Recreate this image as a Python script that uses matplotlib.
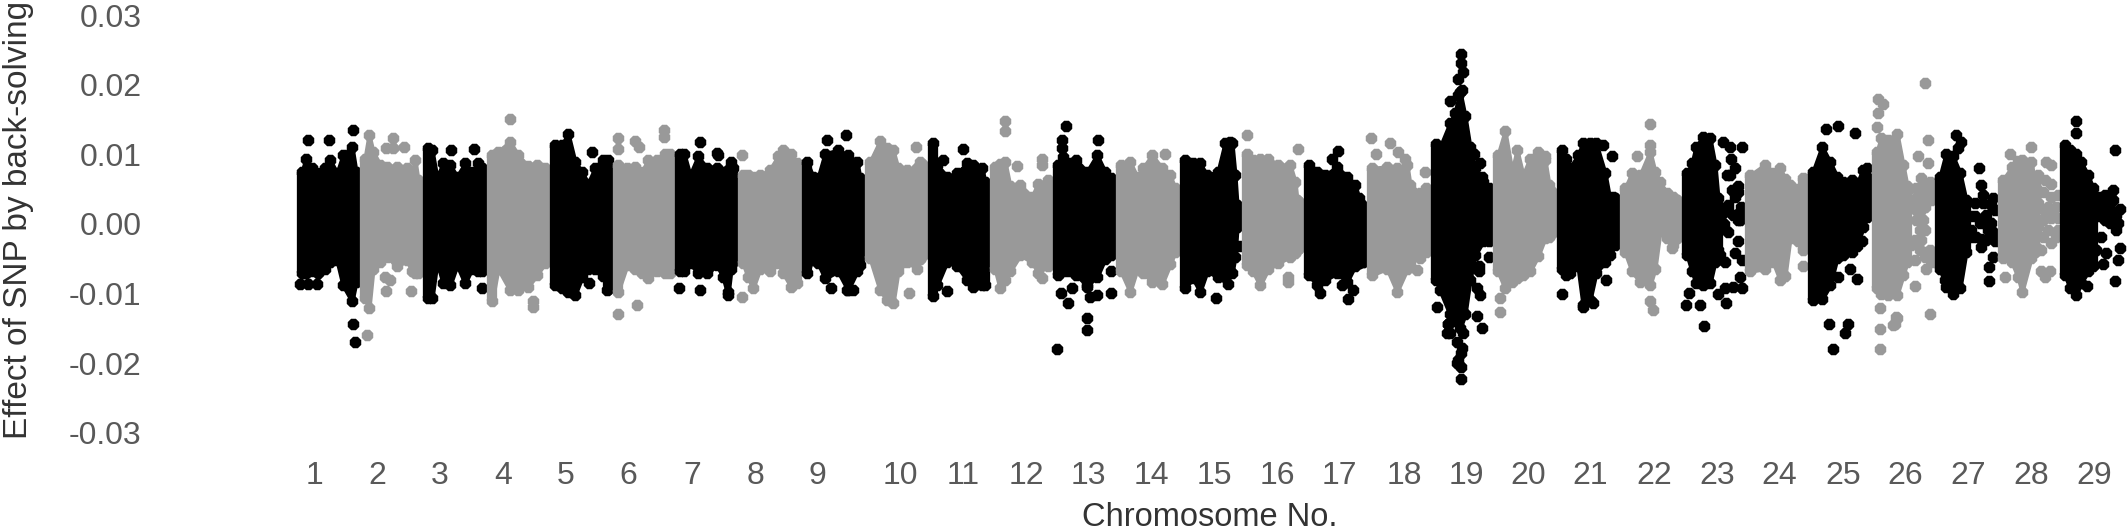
import numpy as np
import matplotlib
matplotlib.use('Agg')
import matplotlib.pyplot as plt

plt.rcParams['font.family'] = ['Liberation Sans', 'DejaVu Sans']

# values. x = cumulative genome position, effects in units of 0.001
chrom_labels = [str(i) for i in range(1, 30)]
label_pos = [315, 377, 440, 503, 566, 628, 692, 755, 817, 900, 963, 1026, 1088, 1151, 1214,
             1277, 1339, 1404, 1466, 1528, 1590, 1654, 1717, 1779, 1843, 1905, 1968, 2031, 2094]
y_ticks = [0.03, 0.02, 0.01, 0.0, -0.01, -0.02, -0.03]

# dense band of each chromosome: position, upper edge, lower edge
band_x = [
    [302, 306, 312, 318, 325, 330, 337, 343, 352, 356],
    [365, 369, 373, 380, 387, 397, 407, 412, 415, 418],
    [428, 432, 437, 443, 450, 457, 465, 472, 478, 482],
    [492, 498, 510, 518, 528, 537, 545],
    [555, 562, 568, 575, 582, 588, 595, 603, 608],
    [618, 627, 635, 642, 648, 657, 665, 670],
    [680, 684, 690, 698, 707, 717, 723, 728, 731, 733],
    [743, 748, 753, 760, 770, 778, 783, 791, 797],
    [807, 813, 818, 825, 838, 848, 857, 860],
    [870, 880, 887, 893, 898, 907, 917, 920, 923],
    [933, 937, 947, 957, 967, 973, 982, 985],
    [995, 1000, 1005, 1010, 1020, 1032, 1038, 1048],
    [1058, 1063, 1068, 1076, 1087, 1097, 1105, 1111],
    [1121, 1130, 1137, 1143, 1152, 1162, 1170, 1175],
    [1185, 1193, 1200, 1207, 1218, 1225, 1232, 1235, 1237],
    [1247, 1253, 1260, 1268, 1278, 1290, 1295, 1297, 1299],
    [1309, 1317, 1325, 1337, 1347, 1355, 1359, 1362],
    [1372, 1387, 1397, 1407, 1410, 1420, 1426],
    [1436, 1440, 1450, 1455, 1460, 1465, 1470, 1475, 1483, 1488],
    [1498, 1505, 1512, 1517, 1523, 1530, 1538, 1545, 1549, 1552],
    [1562, 1566, 1570, 1578, 1583, 1590, 1596, 1605, 1610, 1615],
    [1625, 1632, 1640, 1650, 1655, 1660, 1667, 1673, 1677],
    [1687, 1692, 1696, 1703, 1710, 1715, 1718],
    [1750, 1765, 1773, 1780, 1785, 1790, 1798, 1803],
    [1813, 1822, 1830, 1837, 1843, 1852, 1857, 1863, 1867],
    [1877, 1881, 1888, 1897, 1903, 1907],
    [1940, 1946, 1953, 1960, 1966],
    [2003, 2012, 2018, 2022, 2031, 2035],
    [2065, 2070, 2076, 2081, 2088, 2093],
]
band_top = [
    [7.5, 9.4, 8.0, 7.3, 8.0, 9.2, 7.3, 9.9, 11.1, 7.5],
    [9.4, 12.8, 10.4, 8.5, 8.2, 8.2, 8.0, 6.6, 9.2, 6.3],
    [10.9, 10.6, 6.6, 8.7, 8.5, 6.8, 8.7, 7.5, 8.7, 8.0],
    [9.9, 10.4, 11.8, 9.9, 8.3, 8.5, 8.0],
    [11.3, 11.3, 13.0, 8.9, 7.5, 5.8, 8.0, 9.2, 9.2],
    [8.5, 8.0, 8.2, 7.5, 9.2, 9.2, 10.1, 10.1],
    [10.1, 10.1, 7.0, 9.7, 8.0, 8.0, 7.5, 7.7, 8.9, 8.0],
    [7.0, 7.0, 6.8, 7.0, 7.8, 9.7, 10.6, 10.1, 8.7],
    [8.9, 6.8, 6.6, 10.1, 10.6, 9.9, 8.9, 6.6],
    [8.9, 11.9, 10.9, 10.6, 8.0, 7.8, 8.0, 8.9, 8.5],
    [11.6, 8.5, 6.8, 7.3, 8.7, 8.5, 8.0, 6.0],
    [8.2, 8.6, 8.9, 5.4, 5.6, 3.9, 5.8, 6.3],
    [8.5, 9.6, 8.8, 9.2, 7.5, 9.9, 7.5, 6.6],
    [8.5, 8.9, 6.8, 8.0, 9.9, 8.0, 7.0, 5.1],
    [9.2, 8.7, 8.7, 7.0, 7.5, 11.6, 11.6, 7.0, 2.7],
    [10.1, 9.2, 9.4, 9.4, 8.5, 8.5, 6.1, 3.4, 3.2],
    [8.5, 7.5, 7.0, 8.2, 6.8, 5.6, 3.7, 2.7],
    [8.0, 8.2, 8.0, 8.5, 5.6, 4.4, 5.1],
    [11.5, 11.0, 14.5, 16.0, 19.0, 15.5, 11.0, 8.0, 6.0, 4.5],
    [9.9, 13.3, 7.5, 10.6, 7.0, 9.4, 10.4, 9.2, 5.6, 4.6],
    [10.6, 9.4, 8.0, 9.9, 11.6, 11.6, 11.6, 7.3, 3.4, 3.7],
    [5.1, 7.3, 7.0, 10.4, 7.5, 6.0, 4.4, 3.9, 3.5],
    [7.3, 8.7, 11.1, 12.5, 12.3, 8.5, 3.7],
    [7.0, 8.5, 7.3, 8.0, 6.5, 5.6, 5.0, 6.6],
    [7.5, 11.1, 8.9, 6.8, 6.1, 6.3, 5.8, 7.8, 6.8],
    [10.4, 12.3, 12.1, 13.0, 8.5, 5.5],
    [6.8, 10.1, 9.7, 7.3, 3.4],
    [6.3, 8.2, 9.0, 9.2, 8.9, 6.0],
    [11.3, 10.7, 10.0, 8.9, 7.0, 5.1],
]
band_bot = [
    [-7.1, -7.1, -6.8, -7.1, -6.4, -5.5, -5.2, -8.8, -11.1, -8.3],
    [-10.7, -12.1, -6.4, -5.4, -4.7, -6.1, -5.2, -6.8, -7.1, -7.1],
    [-10.7, -10.7, -5.4, -8.5, -8.8, -5.9, -8.5, -6.4, -6.8, -6.8],
    [-11.1, -6.4, -9.5, -9.5, -9.0, -7.3, -5.6],
    [-8.8, -9.2, -9.8, -10.2, -7.6, -6.4, -6.4, -7.5, -9.4],
    [-9.7, -5.9, -6.4, -7.0, -7.8, -6.8, -7.1, -7.1],
    [-6.8, -6.8, -5.6, -7.1, -7.1, -5.9, -7.6, -10.2, -6.5, -5.4],
    [-5.6, -7.6, -9.2, -6.4, -6.8, -5.6, -7.0, -9.0, -8.5],
    [-7.1, -4.9, -5.6, -7.8, -6.8, -9.5, -6.8, -5.9],
    [-4.9, -9.5, -10.9, -11.4, -6.8, -5.4, -6.4, -5.0, -4.4],
    [-10.4, -8.8, -5.4, -6.0, -8.0, -9.0, -8.8, -8.8],
    [-6.4, -9.2, -8.0, -6.8, -4.5, -5.4, -7.0, -6.0],
    [-7.3, -6.8, -6.8, -7.3, -8.8, -7.6, -5.0, -4.4],
    [-6.8, -9.7, -6.5, -7.0, -8.3, -8.6, -5.8, -4.0],
    [-9.2, -7.8, -9.7, -6.8, -7.6, -7.6, -7.1, -4.7, -0.5],
    [-5.9, -6.8, -8.8, -6.5, -5.6, -4.7, -4.2, -3.7, -3.5],
    [-7.3, -8.8, -8.0, -7.1, -8.3, -6.0, -5.6, -5.4],
    [-7.3, -6.4, -9.7, -6.5, -5.4, -4.9, -4.0],
    [-8.0, -9.5, -13.0, -14.0, -15.0, -13.0, -8.0, -4.5, -2.5, -1.5],
    [-6.8, -9.2, -8.3, -7.8, -7.4, -6.8, -4.6, -2.0, -1.8, -1.3],
    [-6.4, -7.3, -7.0, -6.1, -11.6, -10.9, -7.0, -5.5, -4.5, -3.0],
    [-4.0, -6.8, -8.3, -8.8, -6.4, -1.0, -2.0, -3.0, -2.0],
    [-4.4, -6.8, -8.5, -8.8, -8.5, -5.4, -3.7],
    [-6.8, -6.4, -5.4, -8.0, -7.5, -2.0, -2.4, -3.7],
    [-10.9, -10.8, -8.8, -4.9, -4.5, -4.0, -3.2, -0.5, 1.0],
    [-9.2, -10.0, -10.2, -10.2, -7.4, -5.5],
    [-6.4, -9.0, -10.0, -9.2, -4.0],
    [-4.9, -5.5, -7.6, -9.7, -4.9, -4.0],
    [-7.3, -9.2, -10.2, -8.5, -6.8, -6.0],
]

# single SNPs that stand clear of the bands
extra_x = [
    [308, 329, 353, 300, 308, 317, 353, 355],
    [393, 386, 393, 404, 385, 390, 386, 411, 367],
    [451, 474, 482],
    [510, 533, 533],
    [592, 589, 607],
    [618, 618, 635, 639, 664, 664, 618, 637],
    [679, 700, 700, 718, 717, 728],
    [742, 742],
    [827, 846, 831, 853, 847],
    [916, 909],
    [943, 963, 947],
    [1005, 1005, 1017, 1042, 1042, 1042],
    [1066, 1062, 1062, 1098, 1061, 1068, 1072, 1090, 1097, 1111, 1087, 1087, 1057, 1111, 1087],
    [1165],
    [1216, 1239, 1228, 1230],
    [1247, 1298, 1288, 1288],
    [1338, 1332, 1320, 1348, 1353, 1342, 1363],
    [1371, 1390, 1376, 1398, 1405, 1425, 1417],
    [1461, 1461, 1463, 1458, 1462, 1458, 1450, 1461, 1457, 1462, 1450, 1457, 1448, 1461, 1463, 1461,
     1458, 1437, 1448, 1447, 1474, 1480, 1482, 1489, 1489, 1489, 1479, 1479, 1477, 1480, 1477, 1482],
    [1500, 1500, 1545],
    [1562, 1583, 1593, 1606, 1612, 1603, 1613],
    [1650, 1650, 1637, 1672, 1650, 1653, 1670],
    [1723, 1730, 1731, 1742, 1730, 1735, 1727, 1732, 1738, 1735, 1728, 1738, 1740, 1728, 1738, 1735,
     1742, 1720, 1725, 1740, 1718, 1725, 1733, 1742, 1726, 1704, 1686, 1700, 1689, 1738, 1728, 1733,
     1740, 1741, 1738, 1722, 1724],
    [1803],
    [1826, 1838, 1855, 1867, 1850, 1838, 1857, 1829, 1848, 1845, 1833, 1862, 1853],
    [1878, 1883, 1878, 1877, 1880, 1880, 1880, 1897, 1893, 1925, 1928, 1918, 1928, 1930, 1915, 1896,
     1895, 1926, 1931, 1921, 1930, 1916, 1923, 1931, 1916, 1931, 1925, 1920, 1916, 1923, 1920, 1925,
     1915, 1921, 1908, 1911, 1930, 1925, 1933, 1920, 1915, 1926, 1908, 1911, 1908, 1915, 1921, 1933,
     1928, 1921, 1926],
    [1956, 1961, 1958, 1945, 1979, 1981, 1983, 1993, 1975, 1970, 1995, 1971, 1981, 1995, 1993, 1989,
     1989, 1976, 1980, 1988, 1991, 1993, 1986, 1991, 1983, 1975, 1971, 1981, 1986, 1985],
    [2010, 2031, 2046, 2051, 2005, 2041, 2050, 2045, 2038, 2045, 2036, 2051, 2058, 2043, 2051, 2035,
     2056, 2048, 2038, 2043, 2051, 2058, 2038, 2048, 2058, 2043, 2051, 2036, 2041, 2056, 2036, 2045, 2053],
    [2076, 2076, 2115, 2087, 2115, 2118, 2120, 2103, 2096, 2106, 2101, 2098, 2105, 2113, 2120, 2108,
     2115, 2101, 2098, 2116, 2108, 2113, 2105, 2110, 2118, 2096, 2100, 2111, 2103, 2096, 2116],
]
extra_y = [
    [12.1, 12.1, 13.5, -8.6, -8.6, -8.6, -14.3, -17.0],
    [12.4, 10.9, 10.9, 11.0, -7.6, -8.0, -9.6, -9.6, -15.9],
    [10.6, 10.8, -9.2],
    [15.1, -11.1, -11.9],
    [10.4, -8.5, -9.5],
    [12.4, 10.8, 11.9, 11.0, 13.5, 12.5, -12.9, -11.6],
    [-9.2, 11.8, -9.5, 9.9, 10.2, -9.7],
    [-10.5, 9.9],
    [12.1, 12.8, -9.2, -9.5, -9.5],
    [11.0, -9.9],
    [9.2, 10.8, -9.6],
    [14.8, 13.4, 8.4, 9.4, 8.5, -7.8],
    [14.1, 12.1, 10.9, 12.1, -9.9, -11.3, -9.2, -10.5, -10.2, -9.9, -13.5, -15.3, -18.0, -6.8, -9.0],
    [10.0],
    [-10.6, -3.2, -8.6, 11.8],
    [12.8, 10.8, -7.6, -8.3],
    [10.5, 9.4, -9.9, -10.8, -9.5, -8.8, -5.4],
    [12.4, 11.7, 10.0, 10.4, 9.4, 7.4, -6.6],
    [24.4, 23.1, 21.9, 20.9, 19.2, 18.5, 17.6, -22.2, -20.0, -17.8, -15.7, -16.9, -14.3, -20.5, -15.7, -18.6,
     -19.5, -11.9, -14.3, -15.7, 10.1, 8.7, 6.8, 5.1, -2.4, -4.8, -6.1, -6.8, -9.2, -10.2, -13.2, -15.0],
    [-10.7, -12.6, 9.8],
    [-10.0, -11.9, -11.4, -8.1, 9.7, 11.3, 3.9],
    [14.4, 11.4, 9.8, -3.5, -11.1, -12.3, -1.8],
    [11.8, 11.1, 9.4, 11.1, 7.0, 8.0, 7.0, 4.9, 4.6, 3.9, 2.7, 1.5, 0.6, -1.1, -2.5, -4.2,
     -5.2, -4.4, -5.4, -7.6, -10.0, -9.2, -9.0, -9.2, -11.3, -14.6, -11.6, -11.6, -9.9, 0.6, 2.0, 1.3,
     1.3, 2.5, 5.4, 1.5, 0.0],
    [-6.1],
    [13.7, 14.1, 13.1, 8.1, -6.5, -7.6, -7.9, -14.3, -14.3, -15.7, -18.0, -2.5, -2.5],
    [18.0, 17.3, 15.9, 14.0, -12.1, -15.1, -18.0, -13.5, -14.5, 20.2, 12.1, 9.7, 8.7, -13.0, -8.9, -13.3,
     -14.3, -6.4, -5.4, 6.6, 6.1, 5.1, 5.1, 4.6, 3.7, 3.4, 2.5, 1.8, 0.6, 0.6, -0.9, -0.9,
     -2.3, -2.3, -2.3, -3.0, -3.7, -4.7, -4.7, -3.7, -5.2, -4.0, 2.5, 3.2, 4.9, 2.2, 2.5, 5.8,
     4.6, 3.9, 3.4],
    [12.8, 11.8, 10.9, -8.1, 8.1, 5.6, 4.2, 3.7, 3.0, 1.1, 2.0, -0.9, -3.3, -2.5, -4.8, -6.2,
     -8.2, -1.8, 0.1, -0.9, 0.1, -1.1, 1.3, 2.7, 3.0, 1.1, -1.8, -2.1, -2.3, 0.1],
    [10.0, 11.0, 8.9, 8.5, -7.6, -6.8, -6.8, -7.6, 7.0, 6.3, 5.1, 5.8, 4.2, 4.6, 3.9, 3.7,
     2.5, 2.5, 3.0, 0.6, 0.8, 0.8, -0.4, -0.9, -0.9, -1.8, -2.8, -3.3, -3.7, -1.8, 0.8, 1.8, 2.2],
    [14.8, 13.1, 10.6, -8.9, -8.2, -5.2, -3.5, -5.8, -3.8, -4.2, -1.8, 3.7, 4.2, 4.9, 2.2, 1.5,
     0.6, 2.5, 1.1, -0.9, 3.0, 3.4, 0.6, 0.1, 0.1, 3.0, 3.9, 2.0, 1.5, 2.0, 1.3],
]

fig = plt.figure(figsize=(21.28, 5.30), dpi=100)
ax = fig.add_axes([150 / 2128, 80 / 530, 1978 / 2128, 450 / 530])
ax.set_xlim(150, 2128)
ax.set_ylim(-0.03247, 0.03218)

colors = ['black', '#999999']
msize = 80
for i in range(len(band_x)):
    col = colors[i % 2]
    x = np.array(band_x[i])
    top = np.array(band_top[i]) / 1000
    bot = np.array(band_bot[i]) / 1000
    # band edges are marker centres: thin outline plus a marker at each read point keeps them lumpy
    ax.fill_between(x, bot, top, facecolor=col, edgecolor=col, linewidth=3, joinstyle='round', zorder=i + 1)
    ax.vlines([x[0], x[-1]], [bot[0], bot[-1]], [top[0], top[-1]], color=col, linewidth=7.4, zorder=i + 1)
    ax.scatter(x, top, s=msize, c=col, marker='8', linewidths=0, zorder=i + 1)
    ax.scatter(x, bot, s=msize, c=col, marker='8', linewidths=0, zorder=i + 1)
    ax.scatter(extra_x[i], np.array(extra_y[i]) / 1000, s=msize, c=col, marker='8', linewidths=0, zorder=i + 1)

for s in ax.spines.values():
    s.set_visible(False)
ax.set_xticks(label_pos)
ax.set_xticklabels(chrom_labels)
ax.set_yticks(y_ticks)
ax.set_yticklabels(['%.2f' % v for v in y_ticks])
ax.tick_params(axis='x', length=0, pad=8, labelsize=23, labelcolor='#595959')
ax.tick_params(axis='y', length=0, pad=6, labelsize=23, labelcolor='#595959')

fig.text(1210 / 2128, 1 - 517 / 530, 'Chromosome No.', ha='center', va='center', fontsize=23.5, color='#333333')
fig.text(19 / 2128, 1 - 220 / 530, 'Effect of SNP by back-solving', rotation=90, ha='center', va='center',
         fontsize=24, color='#333333')

fig.savefig('out.png', dpi=100)
